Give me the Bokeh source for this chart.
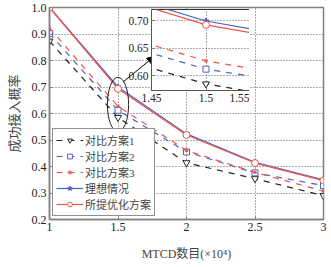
from bokeh.plotting import figure
from bokeh.models import (Range1d, Legend, LegendItem, GridBox, Arrow, NormalHead, FixedTicker,
                          NumeralTickFormatter)
from bokeh.embed import file_html
from bokeh.resources import INLINE

# ---- data ----
x_vals = [1.0, 1.5, 2.0, 2.5, 3.0]
scheme1 = [0.873, 0.585, 0.414, 0.354, 0.290]
scheme2 = [0.902, 0.612, 0.455, 0.376, 0.328]
scheme3 = [0.922, 0.627, 0.460, 0.378, 0.307]
ideal = [1.0, 0.700, 0.523, 0.416, 0.350]
proposed = [1.0, 0.693, 0.519, 0.413, 0.347]
names = ["对比方案1", "对比方案2", "对比方案3", "理想情况", "所提优化方案"]

x_ticks = [1, 1.5, 2, 2.5, 3]
y_ticks = [0.2, 0.3, 0.4, 0.5, 0.6, 0.7, 0.8, 0.9, 1.0]
inset_x_ticks = [1.45, 1.5, 1.55]
inset_y_ticks = [0.60, 0.65, 0.70]

# annotation (ellipse around x=1.5 and arrow to inset)
ell_x, ell_y, ell_w, ell_h = [1.5], [0.634], [0.155], [0.205]
arrow_start = (1.535, 0.718)
arrow_end = (1.765, 0.815)

BLACK = "#222222"
BLUE = "#4a62c4"
RED = "#f0554b"
SERIF = "'Liberation Serif', 'Noto Sans CJK SC'"
CJK = "'Noto Sans CJK SC'"

styles = [
    (scheme1, BLACK, "dashed", "inverted_triangle", 7, "white"),
    (scheme2, BLUE, "dashed", "square", 6, "white"),
    (scheme3, RED, "dashed", "asterisk", 4, RED),
    (ideal, BLUE, "solid", "star", 6, BLUE),
    (proposed, RED, "solid", "circle", 7, "white"),
]


def style_axes(fig, fsize):
    fig.outline_line_color = "#808080"
    fig.outline_line_width = 1.5
    for ax in (fig.xaxis[0], fig.yaxis[0]):
        ax.axis_line_color = "#808080"
        ax.axis_line_width = 1.5
        ax.major_tick_in = 3
        ax.major_tick_out = 0
        ax.minor_tick_line_color = None
        ax.major_tick_line_color = "#808080"
        ax.major_label_text_font = SERIF
        ax.major_label_text_font_size = fsize
        ax.major_label_text_color = "#222222"
        ax.major_label_standoff = 3
    for g in (fig.xgrid[0], fig.ygrid[0]):
        g.grid_line_color = "#333333"
        g.grid_line_dash = "1 2"
        g.grid_line_alpha = 0.8


p = figure(width=315, height=251, output_backend="svg", toolbar_location=None,
           x_range=Range1d(1, 3), y_range=Range1d(0.2, 1.0),
           min_border_left=37, min_border_right=4, min_border_top=7, min_border_bottom=32)
p.frame_width = 274
p.frame_height = 212
style_axes(p, "12px")
p.xaxis.ticker = FixedTicker(ticks=x_ticks)
p.yaxis.ticker = FixedTicker(ticks=y_ticks)
p.xaxis.formatter = NumeralTickFormatter(format="0.[0]")
p.yaxis.formatter = NumeralTickFormatter(format="0.0")
p.xaxis.axis_label = "MTCD数目(×10⁴)"
p.yaxis.axis_label = "成功接入概率"
p.xaxis.axis_label_text_font = SERIF
p.yaxis.axis_label_text_font = CJK
p.xaxis.axis_label_text_font_style = "normal"
p.yaxis.axis_label_text_font_style = "normal"
p.xaxis.axis_label_text_font_size = "12px"
p.yaxis.axis_label_text_font_size = "13px"
p.xaxis.axis_label_standoff = 13
p.yaxis.axis_label_standoff = 6

items = []
for (ys, col, dash, mk, sz, fill), nm in zip(styles, names):
    lr = p.line(x_vals, ys, line_color=col, line_dash=dash, line_width=1.2)
    sr = p.scatter(x_vals, ys, marker=mk, size=sz, line_color=col, fill_color=fill, line_width=1)
    items.append(LegendItem(label=nm, renderers=[lr, sr]))

p.ellipse(x=ell_x, y=ell_y, width=ell_w, height=ell_h, fill_color=None,
          line_color="#222222", line_width=1)
p.add_layout(Arrow(end=NormalHead(size=7, fill_color="black", line_color="black"),
                   x_start=arrow_start[0], y_start=arrow_start[1],
                   x_end=arrow_end[0], y_end=arrow_end[1],
                   line_color="black", line_width=1))

legend = Legend(items=items, location="bottom_left")
legend.margin = 3
legend.padding = 3
legend.spacing = -5
legend.glyph_width = 27
legend.glyph_height = 12
legend.label_height = 12
legend.label_standoff = 2
legend.label_text_font = SERIF
legend.label_text_font_size = "11px"
legend.label_text_line_height = 1.0
legend.border_line_color = "#222222"
legend.border_line_width = 1
legend.background_fill_alpha = 1
p.add_layout(legend)

# ---- inset ----
ins = figure(output_backend="svg", toolbar_location=None,
             x_range=Range1d(1.45, 1.55), y_range=Range1d(0.573, 0.721),
             min_border_left=22, min_border_right=12, min_border_top=2, min_border_bottom=20)
ins.frame_width = 109
ins.frame_height = 81
style_axes(ins, "11.5px")
ins.outline_line_color = "#333333"
ins.outline_line_width = 1
ins.xaxis.axis_line_color = "#555555"
ins.yaxis.axis_line_color = "#555555"
ins.xaxis.axis_line_width = 1
ins.yaxis.axis_line_width = 1
ins.xaxis.ticker = FixedTicker(ticks=inset_x_ticks)
ins.yaxis.ticker = FixedTicker(ticks=inset_y_ticks)
ins.xaxis.formatter = NumeralTickFormatter(format="0.0[0]")
ins.yaxis.formatter = NumeralTickFormatter(format="0.00")
ins.border_fill_alpha = 0
ins.background_fill_color = "white"
for ys, col, dash, mk, sz, fill in styles:
    ins.line(x_vals, ys, line_color=col, line_dash=dash, line_width=1.2)
    ins.scatter(x_vals, ys, marker=mk, size=sz, line_color=col, fill_color=fill, line_width=1)
ins.margin = (2, 0, 0, 102)
ins.align = "start"

layout = GridBox(children=[(p, 0, 0), (ins, 0, 0)])

open("out.html", "w").write(file_html(layout, INLINE))
